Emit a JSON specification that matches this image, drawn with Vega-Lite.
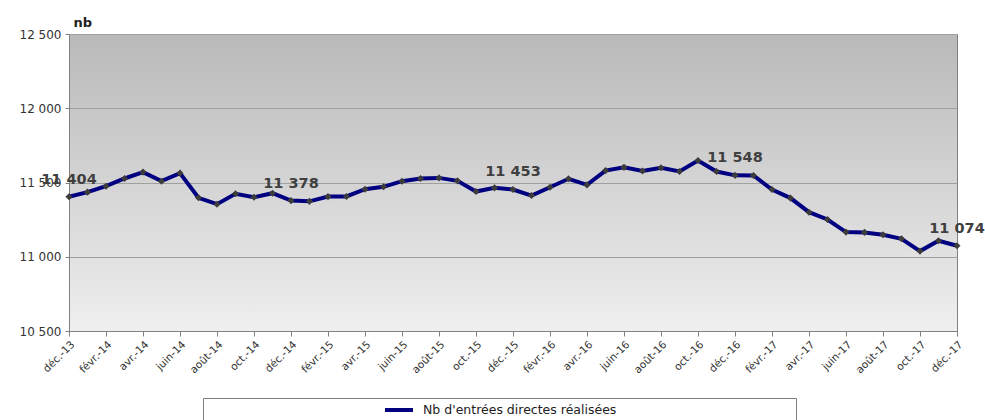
{
  "$schema": "https://vega.github.io/schema/vega-lite/v6.json",
  "autosize": "none",
  "width": 888,
  "height": 297,
  "padding": {"left": 69, "top": 34, "right": 28, "bottom": 89},
  "background": "white",
  "data": {
    "values": [
      {"mois": "déc.-13", "valeur": 11404, "serie": "Nb d'entrées directes réalisées"},
      {"mois": "janv.-14", "valeur": 11435, "serie": "Nb d'entrées directes réalisées"},
      {"mois": "févr.-14", "valeur": 11475, "serie": "Nb d'entrées directes réalisées"},
      {"mois": "mars-14", "valeur": 11527, "serie": "Nb d'entrées directes réalisées"},
      {"mois": "avr.-14", "valeur": 11570, "serie": "Nb d'entrées directes réalisées"},
      {"mois": "mai-14", "valeur": 11509, "serie": "Nb d'entrées directes réalisées"},
      {"mois": "juin-14", "valeur": 11563, "serie": "Nb d'entrées directes réalisées"},
      {"mois": "juil.-14", "valeur": 11397, "serie": "Nb d'entrées directes réalisées"},
      {"mois": "août-14", "valeur": 11354, "serie": "Nb d'entrées directes réalisées"},
      {"mois": "sept.-14", "valeur": 11424, "serie": "Nb d'entrées directes réalisées"},
      {"mois": "oct.-14", "valeur": 11401, "serie": "Nb d'entrées directes réalisées"},
      {"mois": "nov.-14", "valeur": 11428, "serie": "Nb d'entrées directes réalisées"},
      {"mois": "déc.-14", "valeur": 11378, "serie": "Nb d'entrées directes réalisées"},
      {"mois": "janv.-15", "valeur": 11373, "serie": "Nb d'entrées directes réalisées"},
      {"mois": "févr.-15", "valeur": 11405, "serie": "Nb d'entrées directes réalisées"},
      {"mois": "mars-15", "valeur": 11406, "serie": "Nb d'entrées directes réalisées"},
      {"mois": "avr.-15", "valeur": 11455, "serie": "Nb d'entrées directes réalisées"},
      {"mois": "mai-15", "valeur": 11471, "serie": "Nb d'entrées directes réalisées"},
      {"mois": "juin-15", "valeur": 11509, "serie": "Nb d'entrées directes réalisées"},
      {"mois": "juil.-15", "valeur": 11527, "serie": "Nb d'entrées directes réalisées"},
      {"mois": "août-15", "valeur": 11531, "serie": "Nb d'entrées directes réalisées"},
      {"mois": "sept.-15", "valeur": 11511, "serie": "Nb d'entrées directes réalisées"},
      {"mois": "oct.-15", "valeur": 11439, "serie": "Nb d'entrées directes réalisées"},
      {"mois": "nov.-15", "valeur": 11464, "serie": "Nb d'entrées directes réalisées"},
      {"mois": "déc.-15", "valeur": 11453, "serie": "Nb d'entrées directes réalisées"},
      {"mois": "janv.-16", "valeur": 11412, "serie": "Nb d'entrées directes réalisées"},
      {"mois": "févr.-16", "valeur": 11468, "serie": "Nb d'entrées directes réalisées"},
      {"mois": "mars-16", "valeur": 11525, "serie": "Nb d'entrées directes réalisées"},
      {"mois": "avr.-16", "valeur": 11484, "serie": "Nb d'entrées directes réalisées"},
      {"mois": "mai-16", "valeur": 11580, "serie": "Nb d'entrées directes réalisées"},
      {"mois": "juin-16", "valeur": 11602, "serie": "Nb d'entrées directes réalisées"},
      {"mois": "juil.-16", "valeur": 11578, "serie": "Nb d'entrées directes réalisées"},
      {"mois": "août-16", "valeur": 11599, "serie": "Nb d'entrées directes réalisées"},
      {"mois": "sept.-16", "valeur": 11574, "serie": "Nb d'entrées directes réalisées"},
      {"mois": "oct.-16", "valeur": 11648, "serie": "Nb d'entrées directes réalisées"},
      {"mois": "nov.-16", "valeur": 11574, "serie": "Nb d'entrées directes réalisées"},
      {"mois": "déc.-16", "valeur": 11548, "serie": "Nb d'entrées directes réalisées"},
      {"mois": "janv.-17", "valeur": 11547, "serie": "Nb d'entrées directes réalisées"},
      {"mois": "févr.-17", "valeur": 11453, "serie": "Nb d'entrées directes réalisées"},
      {"mois": "mars-17", "valeur": 11395, "serie": "Nb d'entrées directes réalisées"},
      {"mois": "avr.-17", "valeur": 11300, "serie": "Nb d'entrées directes réalisées"},
      {"mois": "mai-17", "valeur": 11251, "serie": "Nb d'entrées directes réalisées"},
      {"mois": "juin-17", "valeur": 11166, "serie": "Nb d'entrées directes réalisées"},
      {"mois": "juil.-17", "valeur": 11164, "serie": "Nb d'entrées directes réalisées"},
      {"mois": "août-17", "valeur": 11148, "serie": "Nb d'entrées directes réalisées"},
      {"mois": "sept.-17", "valeur": 11121, "serie": "Nb d'entrées directes réalisées"},
      {"mois": "oct.-17", "valeur": 11038, "serie": "Nb d'entrées directes réalisées"},
      {"mois": "nov.-17", "valeur": 11108, "serie": "Nb d'entrées directes réalisées"},
      {"mois": "déc.-17", "valeur": 11074, "serie": "Nb d'entrées directes réalisées"}
    ]
  },
  "encoding": {
    "x": {
      "field": "mois",
      "type": "ordinal",
      "sort": null,
      "scale": {"type": "point", "padding": 0},
      "axis": {
        "title": null,
        "values": ["déc.-13", "févr.-14", "avr.-14", "juin-14", "août-14", "oct.-14", "déc.-14", "févr.-15", "avr.-15", "juin-15", "août-15", "oct.-15", "déc.-15", "févr.-16", "avr.-16", "juin-16", "août-16", "oct.-16", "déc.-16", "févr.-17", "avr.-17", "juin-17", "août-17", "oct.-17", "déc.-17"],
        "labelAngle": -45,
        "labelFont": "DejaVu Sans",
        "labelFontSize": 10.5,
        "labelColor": "#333333",
        "labelPadding": 3,
        "tickSize": 5,
        "tickColor": "#808080",
        "domainColor": "#808080",
        "grid": false,
        "labelOverlap": false
      }
    },
    "y": {
      "field": "valeur",
      "type": "quantitative",
      "scale": {"domain": [10500, 12500], "nice": false, "zero": false},
      "axis": {
        "values": [10500, 11000, 11500, 12000, 12500],
        "format": ",d",
        "title": "nb",
        "titleAngle": 0,
        "titleX": 4,
        "titleY": -8,
        "titleAlign": "left",
        "titleBaseline": "alphabetic",
        "titleFont": "DejaVu Sans",
        "titleFontSize": 13,
        "titleFontWeight": "bold",
        "titleColor": "#222222",
        "labelFont": "DejaVu Sans",
        "labelFontSize": 12,
        "labelColor": "#333333",
        "labelPadding": 4,
        "tickSize": 4,
        "tickColor": "#808080",
        "domainColor": "#808080",
        "gridColor": "#a0a0a0",
        "gridWidth": 1
      }
    }
  },
  "layer": [
    {
      "mark": {"type": "line", "strokeWidth": 4, "color": "#000080"},
      "encoding": {
        "stroke": {
          "field": "serie",
          "type": "nominal",
          "scale": {"range": ["#000080"]},
          "legend": {
            "title": null,
            "orient": "none",
            "legendX": 134,
            "legendY": 364,
            "direction": "horizontal",
            "fillColor": "white",
            "strokeColor": "#808080",
            "padding": 0,
            "symbolType": "M-1.4,0H1.4M0,1.6",
            "symbolSize": 400,
            "symbolStrokeWidth": 4,
            "symbolOffset": 184,
            "labelOffset": 12,
            "labelLimit": 0,
            "labelFont": "DejaVu Sans",
            "labelFontSize": 12.5,
            "labelColor": "#222222",
            "labelExpr": "datum.label + '\u00a0\u00a0\u00a0\u00a0\u00a0\u00a0\u00a0\u00a0\u00a0\u00a0\u00a0\u00a0\u00a0\u00a0\u00a0\u00a0\u00a0\u00a0\u00a0\u00a0\u00a0\u00a0\u00a0\u00a0\u00a0\u00a0\u00a0\u00a0\u00a0\u00a0\u00a0\u00a0\u00a0\u00a0\u00a0\u00a0\u00a0\u00a0\u00a0\u00a0\u00a0\u00a0\u00a0\u00a0\u00a0\u200b'"
          }
        }
      }
    },
    {
      "mark": {"type": "point", "shape": "diamond", "filled": true, "size": 50, "color": "#3c3c3c", "opacity": 1}
    },
    {
      "transform": [{"filter": "indexof(datum.mois, 'déc') === 0"}],
      "mark": {"type": "text", "dy": -17, "baseline": "middle", "align": "center", "font": "DejaVu Sans", "fontSize": 14.5, "fontWeight": "bold", "color": "#404040"},
      "encoding": {"text": {"field": "valeur", "type": "quantitative", "format": ",d"}}
    }
  ],
  "config": {
    "locale": {"number": {"decimal": ",", "thousands": " ", "grouping": [3], "currency": ["", " €"]}},
    "view": {
      "stroke": "#808080",
      "strokeWidth": 1,
      "fill": {"gradient": "linear", "x1": 0, "y1": 0, "x2": 0, "y2": 1, "stops": [{"offset": 0, "color": "#b9b9b9"}, {"offset": 1, "color": "#efefef"}]}
    }
  }
}
